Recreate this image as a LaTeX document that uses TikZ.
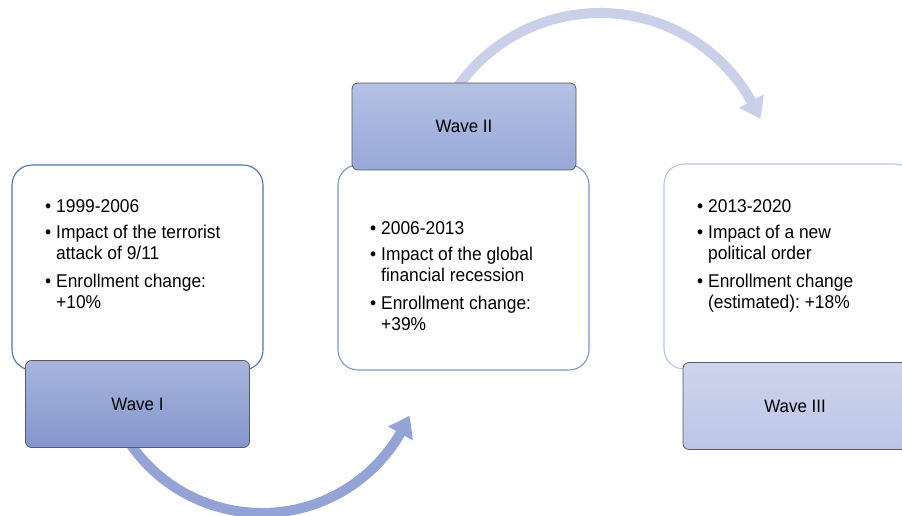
\documentclass[tikz,border=0pt]{standalone}
\usepackage{fontspec}
\setmainfont[FakeStretch=0.94]{Liberation Sans}
\usetikzlibrary{arrows.meta,bending,calc}
\definecolor{waveAtop}{HTML}{A7B5DE}
\definecolor{waveAbot}{HTML}{8396CC}
\definecolor{waveBtop}{HTML}{B5C1E4}
\definecolor{waveBbot}{HTML}{97A8D8}
\definecolor{waveCtop}{HTML}{CDD4EC}
\definecolor{waveCbot}{HTML}{BCC6E6}
\definecolor{edgeA}{HTML}{4A72C4}
\definecolor{edgeB}{HTML}{7A96D2}
\definecolor{edgeC}{HTML}{B6C5E8}
\definecolor{arrowA}{HTML}{93A3D6}
\definecolor{arrowB}{HTML}{C8D0EA}
\definecolor{waveedge}{HTML}{595959}
\newcommand\bitem[1]{\makebox[11pt][l]{\textbullet}#1}
\newcommand\bcont[1]{\hspace*{11pt}#1}
\frenchspacing
\begin{document}
\begin{tikzpicture}[x=1pt,y=1pt,
  infobox/.style={draw, fill=white, rounded corners=20pt, line width=1.1pt,
    minimum width=251pt, minimum height=205pt, inner sep=0pt},
  wavebox/.style={draw=waveedge, line width=0.8pt, rounded corners=6pt,
    minimum width=224pt, minimum height=87pt, inner sep=0pt,
    font=\fontsize{18}{21}\selectfont},
  bullets/.style={anchor=north west, inner sep=0pt, align=left,
    font=\fontsize{18.5}{21}\selectfont},
  flowarrow/.style={line width=10pt, -{Triangle[width=27pt,length=20pt,bend]}}
]
\useasboundingbox (0,0) rectangle (902,516);
% arrows (behind boxes)
\coordinate (ca) at (262,163);
\coordinate (cb) at (600,329);
\coordinate (sa) at ($(ca)+(214:160)$);
\coordinate (sb) at ($(cb)+(145:174)$);
\draw[flowarrow, draw=arrowA] (sa) arc[start angle=214, end angle=337, radius=160];
\draw[flowarrow, draw=arrowB] (sb) arc[start angle=145, end angle=23, radius=174];
% white boxes
\node[infobox, draw=edgeA] (b1) at (137.5,248.5) {};
\node[infobox, draw=edgeB] (b2) at (463.5,248.5) {};
\node[infobox, draw=edgeC] (b3) at (789.5,249.5) {};
% wave boxes
\node[wavebox, top color=waveAtop, bottom color=waveAbot] (w1) at (137.5,112) {Wave I};
\node[wavebox, top color=waveBtop, bottom color=waveBbot] (w2) at (464,389.5) {Wave II};
\node[wavebox, top color=waveCtop, bottom color=waveCbot] (w3) at (795,110) {Wave III};
% texts
\node[bullets] (t1) at (45,317) {\bitem{1999-2006}\\[5pt]\bitem{Impact of the terrorist}\\\bcont{attack of 9/11}\\[7pt]\bitem{Enrollment change:}\\\bcont{+10\%}};
\node[bullets] (t2) at (370,295) {\bitem{2006-2013}\\[5pt]\bitem{Impact of the global}\\\bcont{financial recession}\\[7pt]\bitem{Enrollment change:}\\\bcont{+39\%}};
\node[bullets] (t3) at (697,317) {\bitem{2013-2020}\\[5pt]\bitem{Impact of a new}\\\bcont{political order}\\[7pt]\bitem{Enrollment change}\\\bcont{(estimated): +18\%}};
\end{tikzpicture}
\end{document}
